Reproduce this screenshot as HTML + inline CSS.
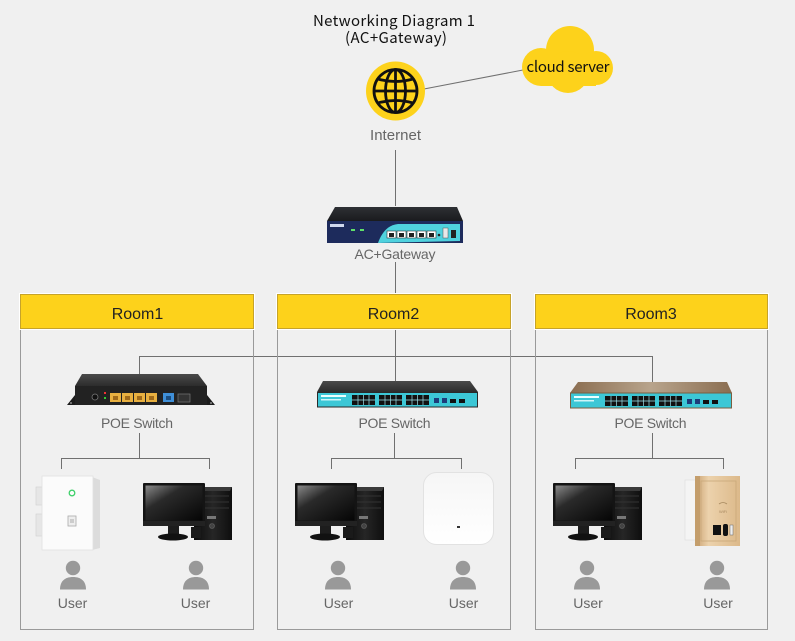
<!DOCTYPE html>
<html>
<head>
<meta charset="utf-8">
<style>
html,body{margin:0;padding:0;background:#f0f0f0;}
svg{display:block;}
.lbl{font-family:"Liberation Sans",Arial,sans-serif;font-size:14px;fill:#666;}
.room{font-family:"Liberation Sans",Arial,sans-serif;font-size:16px;fill:#222;}
.ttl{font-family:"Noto Sans CJK SC","Liberation Sans",sans-serif;font-size:15px;fill:#111;}
</style>
</head>
<body>
<svg width="795" height="641" viewBox="0 0 795 641" xmlns="http://www.w3.org/2000/svg">
<defs>
  <linearGradient id="scr" x1="0" y1="0" x2="1" y2="1">
    <stop offset="0" stop-color="#8a8a8a"/>
    <stop offset="0.35" stop-color="#2a2a2a"/>
    <stop offset="1" stop-color="#050505"/>
  </linearGradient>
  <linearGradient id="twr" x1="0" y1="0" x2="1" y2="0">
    <stop offset="0" stop-color="#0c0c0c"/>
    <stop offset="0.5" stop-color="#262626"/>
    <stop offset="1" stop-color="#0e0e0e"/>
  </linearGradient>
  <linearGradient id="swtop" x1="0" y1="0" x2="0" y2="1">
    <stop offset="0" stop-color="#4a4a4a"/>
    <stop offset="1" stop-color="#2c2c2c"/>
  </linearGradient>
  <linearGradient id="gwtop" x1="0" y1="0" x2="0" y2="1">
    <stop offset="0" stop-color="#2e3034"/>
    <stop offset="1" stop-color="#1a1b1e"/>
  </linearGradient>
  <linearGradient id="brtop" x1="0" y1="0" x2="1" y2="0">
    <stop offset="0" stop-color="#8a6d50"/>
    <stop offset="0.5" stop-color="#b8a48c"/>
    <stop offset="1" stop-color="#8a6d50"/>
  </linearGradient>
  <linearGradient id="ap" x1="0" y1="0" x2="0" y2="1">
    <stop offset="0" stop-color="#f6f6f6"/>
    <stop offset="1" stop-color="#ffffff"/>
  </linearGradient>
  <linearGradient id="gold" x1="0" y1="0" x2="1" y2="0">
    <stop offset="0" stop-color="#c9a070"/>
    <stop offset="0.3" stop-color="#ecd2ac"/>
    <stop offset="1" stop-color="#dcb98a"/>
  </linearGradient>
  <g id="pc">
    <rect x="51" y="4" width="38" height="53" fill="url(#twr)"/>
    <polygon points="51,4 89,4 87,8 53,8" fill="#3a3a3a"/>
    <line x1="56" y1="13" x2="86" y2="13" stroke="#333" stroke-width="1"/>
    <line x1="56" y1="19" x2="86" y2="19" stroke="#333" stroke-width="1"/>
    <line x1="56" y1="25" x2="86" y2="25" stroke="#333" stroke-width="1"/>
    <rect x="64" y="33" width="9" height="3" fill="#777"/>
    <circle cx="69" cy="43" r="2.5" fill="#444" stroke="#666" stroke-width="0.6"/>
    <rect x="48" y="44" width="10" height="11" fill="#1a1a1a"/>
    <rect x="0" y="0" width="62" height="43" fill="#141414" rx="1"/>
    <rect x="2.5" y="2.5" width="57" height="35" fill="url(#scr)"/>
    <rect x="0" y="38" width="62" height="5" fill="#222"/>
    <rect x="25" y="43" width="11" height="8" fill="#1d1d1d"/>
    <ellipse cx="30" cy="54" rx="15" ry="3.5" fill="#111"/>
  </g>
  <g id="user">
    <circle cx="0" cy="568" r="7.2" fill="#999"/>
    <path d="M-13,589.5 C-13,581 -8,577 0,577 C8,577 13,581 13,589.5 Z" fill="#999"/>
  </g>
  <g id="ports8">
    <rect x="0" y="0" width="23" height="10" fill="#111"/>
    <g stroke="#9ee4ec" stroke-width="0.7">
      <line x1="0" y1="5" x2="23" y2="5"/>
      <line x1="6" y1="0" x2="6" y2="10"/>
      <line x1="11.5" y1="0" x2="11.5" y2="10"/>
      <line x1="17" y1="0" x2="17" y2="10"/>
    </g>
  </g>
</defs>

<rect width="795" height="641" fill="#f0f0f0"/>

<!-- title -->
<text class="ttl" x="394" y="26" text-anchor="middle" textLength="162" lengthAdjust="spacing">Networking Diagram 1</text>
<text class="ttl" x="396" y="43" text-anchor="middle" textLength="102" lengthAdjust="spacing">(AC+Gateway)</text>

<!-- connectors -->
<g stroke="#707070" stroke-width="1" fill="none">
  <line x1="424" y1="89" x2="523" y2="70"/>
  <line x1="395.5" y1="150" x2="395.5" y2="206"/>
  <line x1="395.5" y1="262" x2="395.5" y2="382"/>
  <polyline points="139.5,376 139.5,356.5 652.5,356.5 652.5,382"/>
  <line x1="139.5" y1="433" x2="139.5" y2="458"/>
  <polyline points="61.5,469 61.5,458.5 209.5,458.5 209.5,469"/>
  <line x1="394.5" y1="433" x2="394.5" y2="458"/>
  <polyline points="331.5,469 331.5,458.5 461.5,458.5 461.5,469"/>
  <line x1="652.5" y1="433" x2="652.5" y2="458"/>
  <polyline points="575.5,469 575.5,458.5 723.5,458.5 723.5,469"/>
</g>

<!-- room boxes -->
<g stroke="#9a9a9a" stroke-width="1" fill="none">
  <rect x="20.5" y="294.5" width="233" height="335"/>
  <rect x="277.5" y="294.5" width="233" height="335"/>
  <rect x="535.5" y="294.5" width="232" height="335"/>
</g>
<g stroke="#ffffff" stroke-width="1" fill="none">
  <rect x="19.5" y="293.5" width="235" height="36"/>
  <rect x="276.5" y="293.5" width="235" height="36"/>
  <rect x="534.5" y="293.5" width="234" height="36"/>
</g>
<g fill="#fdd21b" stroke="#c6a32a" stroke-width="1">
  <rect x="20.5" y="294.5" width="233" height="34"/>
  <rect x="277.5" y="294.5" width="233" height="34"/>
  <rect x="535.5" y="294.5" width="232" height="34"/>
</g>
<text class="room" x="137.5" y="319" text-anchor="middle">Room1</text>
<text class="room" x="393.5" y="319" text-anchor="middle">Room2</text>
<text class="room" x="651" y="319" text-anchor="middle">Room3</text>

<!-- cloud -->
<g fill="#fdd21b">
  <circle cx="570" cy="50" r="24"/>
  <circle cx="541" cy="67" r="19"/>
  <circle cx="596" cy="68" r="17"/>
  <circle cx="568" cy="72" r="21"/>
  <rect x="541" y="60" width="55" height="26"/>
</g>
<text x="568" y="72" text-anchor="middle" textLength="83" lengthAdjust="spacing" style="font-family:'Noto Sans CJK SC','Liberation Sans',sans-serif;font-size:15px;fill:#111;">cloud server</text>

<!-- globe -->
<circle cx="395.5" cy="91" r="29.5" fill="#fdd21b"/>
<g stroke="#111" stroke-width="2.8" fill="none">
  <circle cx="395.5" cy="91" r="21.5"/>
  <ellipse cx="395.5" cy="91" rx="10" ry="21.5"/>
  <line x1="395.5" y1="69.5" x2="395.5" y2="112.5"/>
  <line x1="374" y1="91" x2="417" y2="91"/>
  <path d="M378,79 Q395.5,84 413,79"/>
  <path d="M378,103 Q395.5,98 413,103"/>
</g>
<text class="lbl" x="395.5" y="140" text-anchor="middle" style="font-size:15px" textLength="51" lengthAdjust="spacing">Internet</text>

<!-- AC gateway -->
<polygon points="335,207 457,207 463,221 327,221" fill="url(#gwtop)"/>
<rect x="327" y="221" width="136" height="22" fill="#1d2b5c"/>
<path d="M378,243 C382,232 388,225 398,224 L460,224 L460,241 Z" fill="#4fd2de"/>
<rect x="330" y="224" width="14" height="3" fill="#cfd8ee"/>
<rect x="351" y="229" width="4" height="2" fill="#5fe06a"/>
<rect x="360" y="229" width="4" height="2" fill="#5fe06a"/>
<g fill="#fff" stroke="#333" stroke-width="0.6">
  <rect x="387" y="231" width="9" height="7"/>
  <rect x="397" y="231" width="9" height="7"/>
  <rect x="407" y="231" width="9" height="7"/>
  <rect x="417" y="231" width="9" height="7"/>
  <rect x="427" y="231" width="9" height="7"/>
</g>
<g fill="#222">
  <rect x="389" y="233" width="5" height="4"/>
  <rect x="399" y="233" width="5" height="4"/>
  <rect x="409" y="233" width="5" height="4"/>
  <rect x="419" y="233" width="5" height="4"/>
  <rect x="429" y="233" width="5" height="4"/>
</g>
<circle cx="439" cy="235" r="1.3" fill="#222"/>
<rect x="443" y="228" width="5" height="10" fill="#e8e8e8" stroke="#555" stroke-width="0.5"/>
<rect x="451" y="230" width="5" height="8" fill="#222"/>
<text class="lbl" x="395" y="259" text-anchor="middle" textLength="81" lengthAdjust="spacing">AC+Gateway</text>

<!-- Room1 switch -->
<polygon points="82,374 198,374 207,386 75,386" fill="url(#swtop)"/>
<polygon points="67,405 75,395 75,386 207,386 207,395 215,405" fill="#1c1c1c"/>
<rect x="75" y="386" width="132" height="19" fill="#222"/>
<circle cx="71" cy="403" r="1" fill="#888"/>
<circle cx="211" cy="403" r="1" fill="#888"/>
<circle cx="95" cy="397" r="3" fill="#111" stroke="#777" stroke-width="0.8"/>
<rect x="104" y="392" width="2" height="2" fill="#e33"/>
<rect x="104" y="397" width="2" height="2" fill="#3c3"/>
<g fill="#e8b040">
  <rect x="110" y="393" width="11" height="9"/>
  <rect x="122" y="393" width="11" height="9"/>
  <rect x="134" y="393" width="11" height="9"/>
  <rect x="146" y="393" width="11" height="9"/>
</g>
<g fill="#a06a1a">
  <rect x="113" y="396" width="5" height="4"/>
  <rect x="125" y="396" width="5" height="4"/>
  <rect x="137" y="396" width="5" height="4"/>
  <rect x="149" y="396" width="5" height="4"/>
</g>
<rect x="163" y="393" width="11" height="9" fill="#3f8fd8"/>
<rect x="166" y="396" width="5" height="4" fill="#1b4d80"/>
<rect x="178" y="394" width="12" height="8" fill="#333" stroke="#777" stroke-width="0.7"/>
<text class="lbl" x="137" y="428" text-anchor="middle" textLength="72" lengthAdjust="spacing">POE Switch</text>

<!-- Room2 switch -->
<polygon points="323,381 470,381 478,392 317,392" fill="url(#swtop)"/>
<rect x="317.5" y="392.5" width="160" height="14.5" fill="#3cc7d6" stroke="#2a2a2a" stroke-width="1"/>
<rect x="321" y="395" width="25" height="2" fill="#eaffff"/>
<rect x="321" y="399" width="20" height="1.5" fill="#d0f5f8"/>
<use href="#ports8" x="352" y="395"/>
<use href="#ports8" x="379" y="395"/>
<use href="#ports8" x="406" y="395"/>
<rect x="434" y="398" width="5" height="5" fill="#1d3c7a"/>
<rect x="442" y="398" width="5" height="5" fill="#1d3c7a"/>
<rect x="450" y="399" width="6" height="4" fill="#111"/>
<rect x="459" y="399" width="6" height="4" fill="#111"/>
<text class="lbl" x="394.5" y="428" text-anchor="middle" textLength="72" lengthAdjust="spacing">POE Switch</text>

<!-- Room3 switch -->
<polygon points="578,382 727,382 732,393 570,393" fill="url(#brtop)"/>
<rect x="570.5" y="393" width="161" height="15" fill="#3cc7d6" stroke="#7a5e40" stroke-width="1"/>
<rect x="574" y="396" width="25" height="2" fill="#eaffff"/>
<rect x="574" y="400" width="20" height="1.5" fill="#d0f5f8"/>
<use href="#ports8" x="605" y="396"/>
<use href="#ports8" x="632" y="396"/>
<use href="#ports8" x="659" y="396"/>
<rect x="687" y="399" width="5" height="5" fill="#1d3c7a"/>
<rect x="695" y="399" width="5" height="5" fill="#1d3c7a"/>
<rect x="703" y="400" width="6" height="4" fill="#111"/>
<rect x="712" y="400" width="6" height="4" fill="#111"/>
<text class="lbl" x="650.5" y="428" text-anchor="middle" textLength="72" lengthAdjust="spacing">POE Switch</text>

<!-- Room1 devices: wall panel -->
<rect x="36" y="487" width="7" height="18" fill="#e6e6e6" stroke="#d0d0d0" stroke-width="0.6"/>
<rect x="36" y="514" width="7" height="22" fill="#e6e6e6" stroke="#d0d0d0" stroke-width="0.6"/>
<polygon points="92,477 100,480 100,548 92,550" fill="#dcdcdc"/>
<rect x="42" y="476" width="51" height="74" fill="#fbfbfb" stroke="#e0e0e0" stroke-width="0.8"/>
<circle cx="72" cy="493" r="2.8" fill="none" stroke="#3fd06a" stroke-width="1.3"/>
<rect x="68" y="516" width="8" height="10" fill="#eee" stroke="#aaa" stroke-width="0.8"/>
<rect x="70" y="519" width="4" height="4" fill="#ccc"/>
<use href="#pc" x="143" y="483"/>

<!-- Room2 devices -->
<use href="#pc" x="295" y="483"/>
<rect x="423.5" y="472.5" width="70" height="72" rx="13" fill="url(#ap)" stroke="#e2e2e2" stroke-width="1"/>
<rect x="457" y="526" width="3" height="2" fill="#333"/>

<!-- Room3 devices -->
<use href="#pc" x="553" y="483"/>
<rect x="685" y="480" width="12" height="60" fill="#f4f4f4" stroke="#dcdcdc" stroke-width="0.6"/>
<rect x="695" y="476" width="45" height="70" fill="url(#gold)"/>
<rect x="701" y="481" width="35" height="60" fill="none" stroke="#c8a87a" stroke-width="0.8"/>
<rect x="695" y="476" width="5" height="70" fill="#c49e6c"/>
<path d="M719,504 Q723,501 727,504" stroke="#a88a60" stroke-width="0.8" fill="none"/>
<text x="723" y="513" text-anchor="middle" style="font-family:'Liberation Sans',sans-serif;font-size:4px;fill:#a88a60;">WiFi</text>
<rect x="713" y="525" width="8" height="10" fill="#111"/>
<rect x="723" y="524" width="5" height="12" rx="2" fill="#111"/>
<rect x="730" y="525" width="3" height="10" fill="#eee" stroke="#666" stroke-width="0.5"/>

<!-- users -->
<use href="#user" x="73"/>
<use href="#user" x="196"/>
<use href="#user" x="338"/>
<use href="#user" x="463"/>
<use href="#user" x="587"/>
<use href="#user" x="717"/>
<g class="lbl" text-anchor="middle">
  <text x="72.5" y="608">User</text>
  <text x="195.5" y="608">User</text>
  <text x="338.5" y="608">User</text>
  <text x="463.5" y="608">User</text>
  <text x="588" y="608">User</text>
  <text x="718" y="608">User</text>
</g>
</svg>
</body>
</html>
